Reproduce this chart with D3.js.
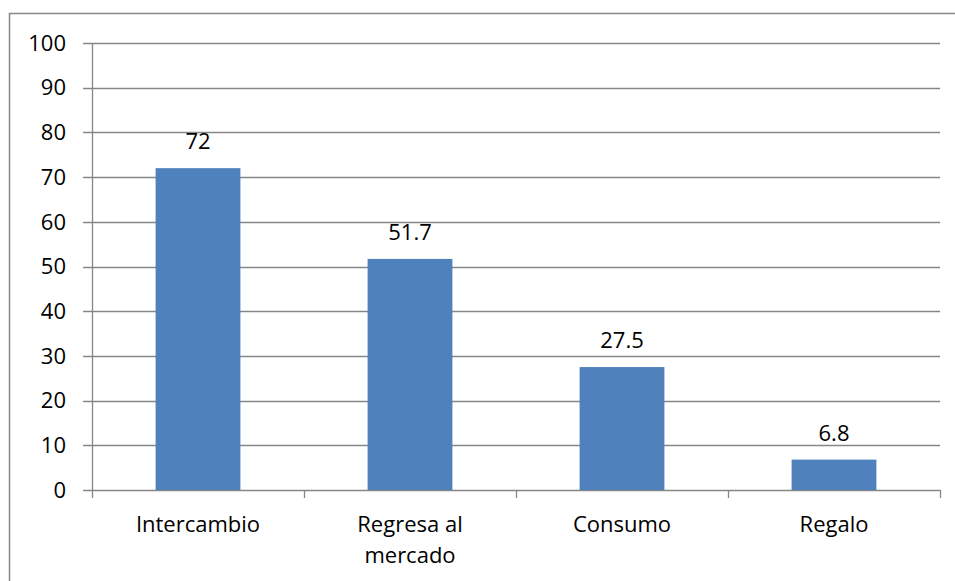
<!DOCTYPE html>
<html><head><meta charset="utf-8">
<script src="https://cdn.jsdelivr.net/npm/d3@7"></script>
<style>
html,body{margin:0;padding:0;background:#fff;}
svg{display:block;}
text{font-family:"Open Sans","Noto Sans",sans-serif;fill:#000;}
</style></head>
<body>
<svg id="c" width="955" height="581"></svg>
<script>
const categories = [["Intercambio"], ["Regresa al", "mercado"], ["Consumo"], ["Regalo"]];
const values = [72, 51.7, 27.5, 6.8];
const valueLabels = ["72", "51.7", "27.5", "6.8"];
const yTicks = [0, 10, 20, 30, 40, 50, 60, 70, 80, 90, 100];

(function () {
const svg = d3.select("#c");
const pL = 92, pR = 940, pT = 43, pB = 490;
const fs = 22;

svg.append("rect").attr("x", 9.5).attr("y", 13.5).attr("width", 960).attr("height", 600)
  .attr("fill", "#fff").attr("stroke", "#898989").attr("stroke-width", 1.5);

const x = d3.scaleBand().domain(d3.range(categories.length)).range([pL, pR]).paddingInner(0).paddingOuter(0);
const y = d3.scaleLinear().domain([0, 100]).range([pB, pT]);

svg.append("g").selectAll("line").data(yTicks).join("line")
  .attr("x1", pL - 9).attr("x2", pR)
  .attr("y1", d => Math.round(y(d)) + 0.5).attr("y2", d => Math.round(y(d)) + 0.5)
  .attr("stroke", "#868686").attr("stroke-width", 1.3);

svg.append("line").attr("x1", pL + 0.5).attr("x2", pL + 0.5).attr("y1", pT).attr("y2", pB)
  .attr("stroke", "#868686").attr("stroke-width", 1.3);

svg.append("g").selectAll("text").data(yTicks).join("text")
  .attr("x", 66).attr("y", d => y(d)).attr("dy", "0.35em")
  .attr("text-anchor", "end").attr("font-size", fs).text(d => d);

const bounds = d3.range(categories.length + 1).map(i => i < categories.length ? x(i) : pR);
svg.append("g").selectAll("line").data(bounds).join("line")
  .attr("x1", d => Math.round(d) + 0.5).attr("x2", d => Math.round(d) + 0.5)
  .attr("y1", pB).attr("y2", pB + 8)
  .attr("stroke", "#868686").attr("stroke-width", 1.3);

const bw = x.bandwidth() * 0.4;
svg.append("g").selectAll("rect").data(values).join("rect")
  .attr("x", (d, i) => x(i) + (x.bandwidth() - bw) / 2)
  .attr("width", bw)
  .attr("y", d => y(d))
  .attr("height", d => y(0) - y(d))
  .attr("fill", "#4F81BD");

svg.append("g").selectAll("text").data(values).join("text")
  .attr("x", (d, i) => x(i) + x.bandwidth() / 2)
  .attr("y", d => y(d) - 19)
  .attr("text-anchor", "middle").attr("font-size", fs)
  .text((d, i) => valueLabels[i]);

const cg = svg.append("g").selectAll("text").data(categories).join("text")
  .attr("x", (d, i) => x(i) + x.bandwidth() / 2)
  .attr("y", 532)
  .attr("text-anchor", "middle").attr("font-size", fs);
cg.selectAll("tspan").data(d => d).join("tspan")
  .attr("x", function () { return this.parentNode.getAttribute("x"); })
  .attr("dy", (d, j) => j === 0 ? 0 : 31)
  .text(d => d);
})();
</script>
</body></html>
